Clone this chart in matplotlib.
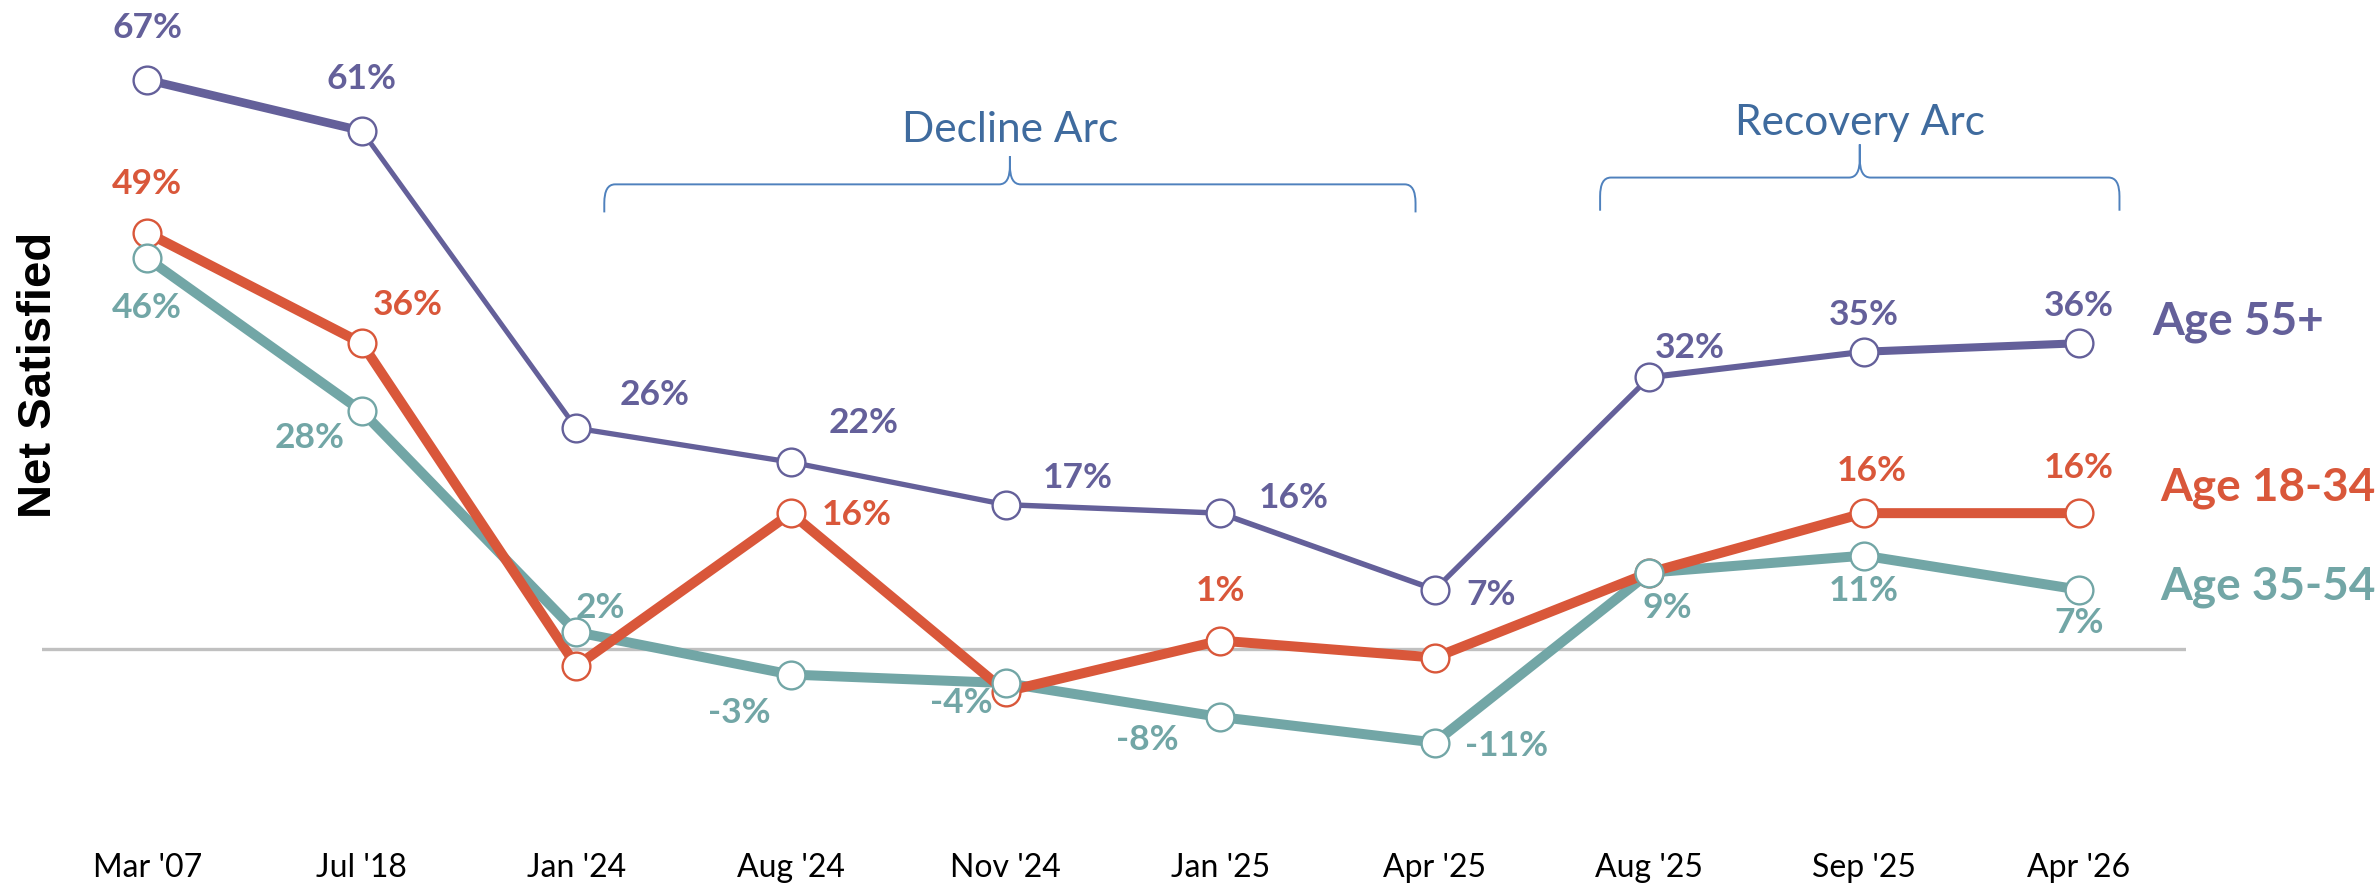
import numpy as np
import matplotlib
matplotlib.use("Agg")
import matplotlib.pyplot as plt
from matplotlib.path import Path
from matplotlib.patches import PathPatch

# data
periods = ["Mar '07", "Jul '18", "Jan '24", "Aug '24", "Nov '24",
           "Jan '25", "Apr '25", "Aug '25", "Sep '25", "Apr '26"]
age55 = [67, 61, 26, 22, 17, 16, 7, 32, 35, 36]
age18 = [49, 36, -2, 16, -5, 1, -1, 9, 16, 16]
age35 = [46, 28, 2, -3, -4, -8, -11, 9, 11, 7]
age18_shown = [True, True, False, True, False, True, False, False, True, True]
series_names = ["Age 55+", "Age 18-34", "Age 35-54"]
arcs = [("Decline Arc", 2.13, 5.91), ("Recovery Arc", 6.77, 9.19)]

PURPLE = "#64609A"; ORANGE = "#D9573A"; TEAL = "#72A6A6"
BRACE = "#4F81BD"; BRACE_TXT = "#3F6B9E"; ZERO = "#C0C0C0"

# label offsets in pixels (dx, dy up)
off55 = [(0, 52), (0, 52), (78, 33), (73, 39), (72, 27), (73, 15), (56, -5), (40, 29), (0, 37), (0, 37)]
off18 = [(0, 49), (46, 38), (0, 0), (66, -2), (0, 0), (0, 50), (0, 0), (0, 0), (8, 42), (0, 45)]
off35 = [(0, -50), (-52, -27), (24, 24), (-52, -38), (-44, -20), (-73, -23), (72, -3), (18, -35), (0, -35), (0, -33)]
w55 = [6.2, 3.6, 3.8, 3.8, 3.9, 4.0, 3.8, 4.4, 5.8]

W, H = 2379, 891
fig = plt.figure(figsize=(W / 100, H / 100), dpi=100)
ax = fig.add_axes([42 / W, 46 / H, (2186 - 42) / W, 845 / H])
ax.set_xlim(-0.49, 9.5)
ax.set_ylim(-23.06, 76.4)
for s in ax.spines.values():
    s.set_visible(False)
ax.set_yticks([])
ax.set_xticks(range(len(periods)), periods, fontsize=23, family="Lato")
ax.tick_params(axis="x", length=0, pad=6, colors="black")

ax.axhline(0, color=ZERO, lw=2.4, zorder=1)

x = np.arange(len(periods))
for i in range(len(x) - 1):
    ax.plot(x[i:i + 2], age55[i:i + 2], color=PURPLE, lw=w55[i], solid_capstyle="round", zorder=3)
ax.plot(x, age35, color=TEAL, lw=7.2, solid_joinstyle="round", zorder=3)
ax.plot(x, age18, color=ORANGE, lw=7.2, solid_joinstyle="round", zorder=4)

mk = dict(marker="o", ms=20, mfc="white", mew=1.7, ls="none")
ax.plot(x, age18, mec=ORANGE, zorder=5, **mk)
ax.plot(x, age35, mec=TEAL, zorder=6, **mk)
ax.plot(x, age55, mec=PURPLE, zorder=7, **mk)

def labels(vals, offs, color, shown=None):
    for i, v in enumerate(vals):
        if shown is not None and not shown[i]:
            continue
        ax.annotate(f"{v}%", (i, v), xytext=offs[i], textcoords="offset pixels",
                    ha="center", va="center", fontsize=25.5, family="Lato",
                    fontweight="bold", color=color, zorder=8)

labels(age55, off55, PURPLE)
labels(age18, off18, ORANGE, age18_shown)
labels(age35, off35, TEAL)

# series names at right
for name, col, yp in zip(series_names, [PURPLE, ORANGE, TEAL], [322, 488, 587]):
    fig.text(2152 / W if name == "Age 55+" else 2160 / W, 1 - yp / H, name, color=col,
             fontsize=33, family="Lato", fontweight="bold", ha="left", va="center")

# braces
def brace(x0, x1, yh, yend, ytip):
    xc = (x0 + x1) / 2
    rx, ry = 0.05, 2.2
    verts = [(x0, yend), (x0, yh - ry), (x0, yh), (x0 + rx, yh),
             (xc - rx, yh), (xc, yh), (xc, yh + ry), (xc, ytip),
             (xc, yh + ry), (xc, yh), (xc + rx, yh),
             (x1 - rx, yh), (x1, yh), (x1, yh - ry), (x1, yend)]
    codes = [Path.MOVETO, Path.LINETO, Path.CURVE3, Path.CURVE3,
             Path.LINETO, Path.CURVE3, Path.CURVE3, Path.LINETO,
             Path.LINETO, Path.CURVE3, Path.CURVE3,
             Path.LINETO, Path.CURVE3, Path.CURVE3, Path.LINETO]
    ax.add_patch(PathPatch(Path(verts, codes), fill=False, ec=BRACE, lw=1.4, zorder=2))
    return xc

for (name, x0, x1), (yh, ye, yt, ty) in zip(arcs, [(54.7, 51.4, 58.0, 61.1), (55.5, 51.6, 59.4, 61.9)]):
    xc = brace(x0, x1, yh, ye, yt)
    ax.text(xc, ty, name, ha="center", va="center", fontsize=30.5, family="Lato", color=BRACE_TXT)

fig.text(39 / W, 1 - 375 / H, "Net Satisfied", rotation=90, ha="center", va="center",
         fontsize=34, family="Liberation Sans", fontweight="bold", color="black")

fig.savefig("out.png", dpi=100, facecolor="white")
